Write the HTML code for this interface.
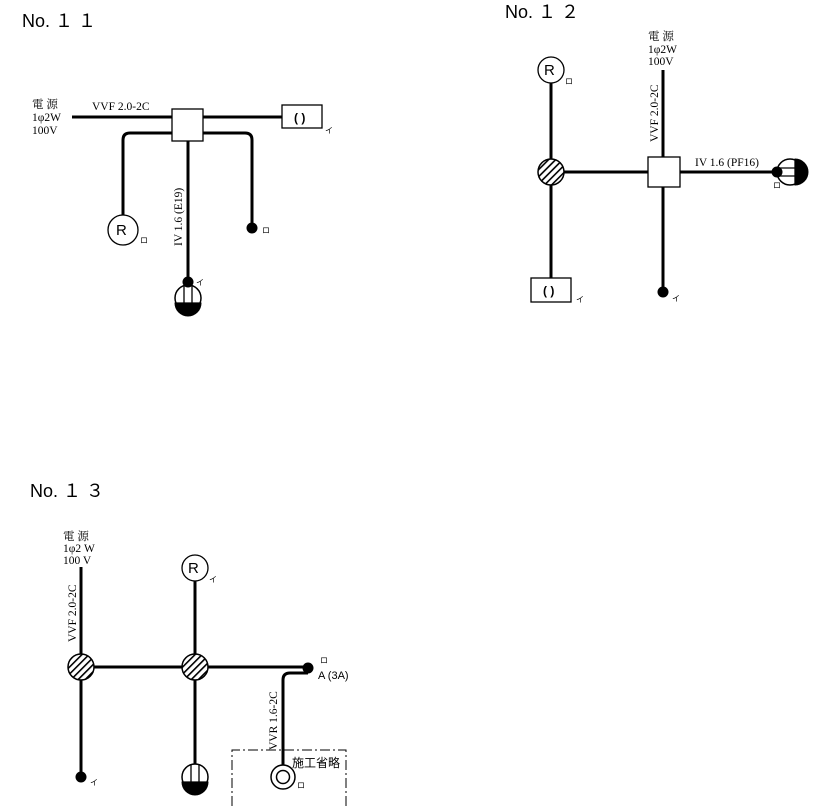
<!DOCTYPE html>
<html><head><meta charset="utf-8"><style>
html,body{margin:0;padding:0;background:#fff;}
svg{display:block;}
text{font-family:"Liberation Serif","Noto Serif CJK SC",serif;fill:#000;}
.t{font-family:"Liberation Sans","Noto Sans CJK JP",sans-serif;font-size:18px;}
.s{font-size:11.5px;}
.k{font-family:"Liberation Sans","Noto Sans CJK JP",sans-serif;font-size:8px;}
</style></head><body>
<svg width="829" height="806" viewBox="0 0 829 806" xmlns="http://www.w3.org/2000/svg">
<defs>
<pattern id="h" width="5" height="5" patternUnits="userSpaceOnUse" patternTransform="rotate(45)">
<rect width="5" height="5" fill="#fff"/><rect width="1.6" height="5" fill="#000"/>
</pattern>
</defs>
<g stroke="#000" fill="none">
<!-- No.11 -->
<g stroke-width="3">
<line x1="72" y1="117" x2="172" y2="117"/>
<line x1="203" y1="117" x2="282" y2="117"/>
<path d="M172 133 H130 Q123 133 123 140 V215"/>
<path d="M203 133 H245 Q252 133 252 140 V228"/>
<line x1="188" y1="141" x2="188" y2="282"/>
</g>
<rect x="172" y="109" width="31" height="32" fill="#fff" stroke-width="1.3"/>
<rect x="282" y="105" width="40" height="23" fill="#fff" stroke-width="1.3"/>
<circle cx="123" cy="230" r="15" fill="#fff" stroke-width="1.3"/>
<g transform="translate(188,298)">
<path d="M-13 5 A13 13 0 0 0 13 5 Z" fill="#000"/>
<circle r="13" stroke-width="1.5"/>
<line x1="-4" y1="-13" x2="-4" y2="5" stroke-width="1.3"/><line x1="4" y1="-13" x2="4" y2="5" stroke-width="1.3"/>
<line x1="-13" y1="5" x2="13" y2="5" stroke-width="1.3"/>
</g>
<!-- No.12 -->
<g stroke-width="3">
<line x1="663" y1="70" x2="663" y2="157"/>
<line x1="663" y1="187" x2="663" y2="292"/>
<line x1="680" y1="172" x2="777" y2="172"/>
<line x1="564" y1="172" x2="648" y2="172"/>
<line x1="551" y1="83" x2="551" y2="278"/>
</g>
<rect x="648" y="157" width="32" height="30" fill="#fff" stroke-width="1.3"/>
<rect x="531" y="278" width="40" height="24" fill="#fff" stroke-width="1.3"/>
<circle cx="551" cy="70" r="13" fill="#fff" stroke-width="1.3"/>
<circle cx="551" cy="172" r="13" fill="url(#h)" stroke-width="1.5"/>
<g transform="translate(790,172) rotate(-90)">
<path d="M-13 5 A13 13 0 0 0 13 5 Z" fill="#000"/>
<circle r="13" stroke-width="1.5"/>
<line x1="-4" y1="-13" x2="-4" y2="5" stroke-width="1.3"/><line x1="4" y1="-13" x2="4" y2="5" stroke-width="1.3"/>
<line x1="-13" y1="5" x2="13" y2="5" stroke-width="1.3"/>
</g>
<!-- No.13 -->
<g stroke-width="3">
<line x1="81" y1="567" x2="81" y2="777"/>
<line x1="81" y1="667" x2="308" y2="667"/>
<line x1="195" y1="581" x2="195" y2="764"/>
<path d="M308 673 H290 Q283 673 283 680 V765"/>
</g>
<circle cx="81" cy="667" r="13" fill="url(#h)" stroke-width="1.5"/>
<circle cx="195" cy="667" r="13" fill="url(#h)" stroke-width="1.5"/>
<circle cx="195" cy="568" r="13" fill="#fff" stroke-width="1.3"/>
<g transform="translate(195,777)">
<path d="M-13 5 A13 13 0 0 0 13 5 Z" fill="#000"/>
<circle r="13" stroke-width="1.5" fill="none"/>
<line x1="-4" y1="-13" x2="-4" y2="5" stroke-width="1.3"/><line x1="4" y1="-13" x2="4" y2="5" stroke-width="1.3"/>
<line x1="-13" y1="5" x2="13" y2="5" stroke-width="1.3"/>
</g>
<circle cx="283" cy="777" r="12" fill="#fff" stroke-width="1.5"/>
<circle cx="283" cy="777" r="6.5" stroke-width="1.5"/>
<path d="M232 806 V750 H346 V806" stroke-width="1" stroke-dasharray="10,3,2,3"/>
</g>
<g fill="#000">
<circle cx="252" cy="228" r="5.5"/><circle cx="188" cy="282" r="5.5"/>
<circle cx="663" cy="292" r="5.5"/><circle cx="777" cy="172" r="5.5"/>
<circle cx="81" cy="777" r="5.5"/><circle cx="308" cy="668" r="5.5"/>
</g>
<!-- texts -->
<text class="t" x="22" y="27">No. １ １</text>
<text class="t" x="505" y="18">No. １ ２</text>
<text class="t" x="30" y="497">No. １ ３</text>
<text class="s" x="32" y="108">電 源</text><text class="s" x="32" y="121">1φ2W</text><text class="s" x="32" y="134">100V</text>
<text class="s" x="92" y="110">VVF 2.0-2C</text>
<text x="294" y="122" style="font-family:'Liberation Sans',sans-serif;font-size:12px;font-weight:bold">( )</text>
<text class="k" x="325" y="133">イ</text>
<text x="116" y="235" style="font-family:'Liberation Sans',sans-serif;font-size:15px">R</text>
<text class="k" x="140" y="243">ロ</text><text class="k" x="262" y="233">ロ</text><text class="k" x="196" y="285">イ</text>
<text class="s" transform="translate(182,246) rotate(-90)">IV 1.6 (E19)</text>

<text class="s" x="648" y="40">電 源</text><text class="s" x="648" y="53">1φ2W</text><text class="s" x="648" y="65">100V</text>
<text class="s" transform="translate(658,142) rotate(-90)">VVF 2.0-2C</text>
<text class="s" x="695" y="166">IV 1.6 (PF16)</text>
<text x="544" y="75" style="font-family:'Liberation Sans',sans-serif;font-size:15px">R</text>
<text class="k" x="565" y="84">ロ</text>
<text x="543" y="295" style="font-family:'Liberation Sans',sans-serif;font-size:12px;font-weight:bold">( )</text>
<text class="k" x="576" y="302">イ</text><text class="k" x="672" y="301">イ</text><text class="k" x="773" y="188">ロ</text>

<text class="s" x="63" y="540">電 源</text><text class="s" x="63" y="552">1φ2 W</text><text class="s" x="63" y="564">100 V</text>
<text class="s" transform="translate(76,642) rotate(-90)">VVF 2.0-2C</text>
<text x="188" y="573" style="font-family:'Liberation Sans',sans-serif;font-size:15px">R</text>
<text class="k" x="209" y="582">イ</text><text class="k" x="90" y="785">イ</text>
<text class="k" x="320" y="663">ロ</text>
<text style="font-family:'Liberation Sans',sans-serif;font-size:11px" x="318" y="679">A (3A)</text>
<text class="s" transform="translate(277,750) rotate(-90)">VVR 1.6-2C</text>
<text style="font-family:'Liberation Sans','Noto Sans CJK JP',sans-serif;font-size:12px" x="292" y="767">施工省略</text>
<text class="k" x="297" y="788">ロ</text>
</svg>
</body></html>
